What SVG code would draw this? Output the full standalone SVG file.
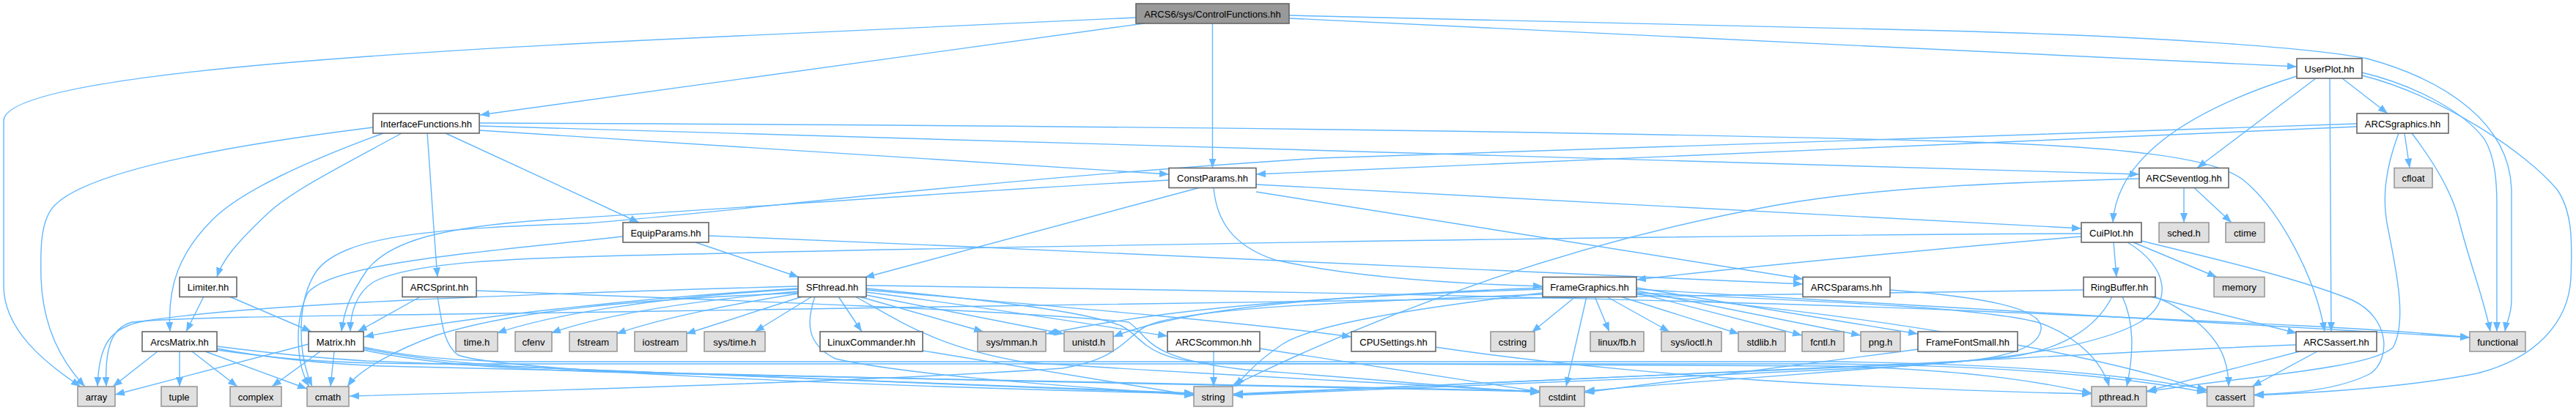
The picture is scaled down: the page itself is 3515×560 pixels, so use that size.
<svg xmlns="http://www.w3.org/2000/svg" width="3515" height="560" viewBox="0 0 3515 560">
<style>
.e path{fill:none;stroke:#63b8ff;stroke-width:1.4;marker-end:url(#ah)}
.n rect{fill:#ffffff;stroke:#666666;stroke-width:1.6}
.x rect{fill:#e0e0e0;stroke:#999999;stroke-width:1.6}
.r rect{fill:#999999;stroke:#666666;stroke-width:1.6}
text{font-family:"Liberation Sans",Arial,Helvetica,sans-serif;font-size:13px;text-anchor:middle;fill:#000000}
</style>
<defs>
<marker id="ah" markerUnits="userSpaceOnUse" markerWidth="14" markerHeight="11" refX="13" refY="5" orient="auto">
<path d="M0,0 L13,5 L0,10 z" fill="#63b8ff"/>
</marker>
</defs>
<rect width="3515" height="560" fill="#ffffff"/>
<g id="edges" class="e">
<path d="M1550,24 L900,54 C400,78 5,110 5,165 L5,390 C5,450 60,495 110,528"/>
<path d="M1561,32 L655,157"/>
<path d="M1654.5,32 L1654.5,229.5"/>
<path d="M1759,25 L3134,91"/>
<path d="M1759,21 L2655,42 C2950,50 3150,65 3230,80 C3340,110 3425,170 3427,260 L3427,410 C3427,430 3420,440 3418,453"/>
<path d="M509,174 C300,200 120,235 75,280 C55,300 55,340 56,380 C58,440 80,490 116,528"/>
<path d="M523,182 C420,220 330,260 290,300 C245,345 228,390 232,453"/>
<path d="M548,182 C460,230 400,260 367,290 C335,320 305,350 296,378.5"/>
<path d="M583,182 C588,250 592,320 597,378.5"/>
<path d="M608,182 L872,304"/>
<path d="M654,178 L1595,238"/>
<path d="M654,172 L2919,238"/>
<path d="M654,168 C1200,170 2000,175 2660,193 C2900,200 3020,215 3060,245 C3110,285 3160,380 3172,453"/>
<path d="M3134,104 C3020,140 2890,200 2883,304"/>
<path d="M3160,107 L2998,229.5"/>
<path d="M3179,107 L3181,453"/>
<path d="M3196,107 L3258,155"/>
<path d="M3223,99 C3290,115 3360,150 3390,190 C3405,215 3407,250 3407,280 L3407,453"/>
<path d="M3223,103 C3330,130 3450,210 3490,260 C3510,290 3510,330 3508,380 C3505,440 3460,490 3380,510 C3280,530 3150,537 3076,540"/>
<path d="M3216,173 L1714,238"/>
<path d="M3216,169 L1800,216 C1300,248 1000,290 800,305 C600,312 470,320 432,370 C405,410 405,480 426,528"/>
<path d="M3273,182 C3255,230 3250,270 3258,310 C3270,370 3285,440 3265,475 C3230,505 3050,515 2929,535"/>
<path d="M3281,182 L3288,229.5"/>
<path d="M3291,182 C3320,220 3345,260 3355,300 C3370,360 3390,410 3398,453"/>
<path d="M1595,246 C1300,262 1000,285 750,300 C600,310 530,330 500,370 C480,400 470,420 466,453"/>
<path d="M1636,256.5 L1180,379"/>
<path d="M1656,256.5 C1660,300 1680,335 1740,355 C1850,380 2000,388 2105,391"/>
<path d="M1714,262 L2460,381"/>
<path d="M1714,252 L2840,312"/>
<path d="M2980,256.5 L2980,304"/>
<path d="M2994,256.5 L3045,304"/>
<path d="M2919,244 C2700,250 2550,258 2425,280 C2150,330 1900,420 1680,528"/>
<path d="M850,323 C650,345 450,360 420,400 C400,440 405,500 422,528"/>
<path d="M949,331 L1090,378.5"/>
<path d="M967,322 C1500,345 2100,368 2460,388"/>
<path d="M2840,319 C2200,322 1300,338 900,348 C700,352 560,358 510,385 C485,400 478,430 478,453"/>
<path d="M2840,323 C2700,335 2400,362 2233,382"/>
<path d="M2884,331 L2888,378.5"/>
<path d="M2911,331 L3025,378.5"/>
<path d="M2922,329 C3050,360 3150,385 3210,410 C3262,435 3262,490 3235,510 C3190,533 3130,537 3076,539"/>
<path d="M2903,331 C2960,365 2965,415 2920,440 C2860,475 2720,492 2600,500 C2300,515 1900,532 1683,540"/>
<path d="M2896,405 C2912,440 2912,480 2902,528"/>
<path d="M2940,405 C2990,425 3025,460 3035,490 C3040,505 3041,515 3041,528"/>
<path d="M2934,405 L3134,455"/>
<path d="M2843,396 C2400,402 1600,414 900,425 C500,431 250,432 180,440 C150,448 143,480 145,528"/>
<path d="M2882,405 C2860,450 2810,478 2740,488 C2550,505 2300,522 2163,534"/>
<path d="M3138,480 L2930,534"/>
<path d="M3162,480 L3073,528"/>
<path d="M3133,471 C2900,480 2750,490 2600,497 C2300,510 1900,530 1683,539"/>
<path d="M1089,395 C900,405 750,430 678,455"/>
<path d="M1089,398 C950,410 820,430 752,455"/>
<path d="M1089,401 C1000,415 900,435 841,456"/>
<path d="M1095,405 L936,456"/>
<path d="M1108,405 L1030,453"/>
<path d="M1144,405 L1176,453"/>
<path d="M1172,405 L1342,453"/>
<path d="M1182,403 L1452,456"/>
<path d="M1182,399 C1350,420 1500,445 1593,459"/>
<path d="M1182,396 C1400,415 1700,440 1844,460"/>
<path d="M1112,405 C1100,440 1100,470 1140,490 C1250,515 1500,530 1629,540"/>
<path d="M1167,405 C1230,440 1280,475 1400,495 C1700,515 1950,525 2101,536"/>
<path d="M1182,394 C1350,410 1480,425 1530,445 C1560,460 1560,490 1650,496 L2500,500 C2700,505 2800,525 2854,537"/>
<path d="M1182,390 C1800,398 2400,412 2700,425 C3000,438 3250,448 3370,461"/>
<path d="M1089,394 C900,405 650,430 497,460"/>
<path d="M1089,400 C850,410 700,425 595,458 C540,478 490,505 474,528"/>
<path d="M1089,391 C700,402 350,415 200,438 C150,446 135,470 133,528"/>
<path d="M2150,405 L2090,454"/>
<path d="M2165,405 L2137,528"/>
<path d="M2176,405 L2196,453"/>
<path d="M2192,405 L2278,453"/>
<path d="M2211,405 L2373,456"/>
<path d="M2233,400 L2459,458"/>
<path d="M2233,397 L2539,458"/>
<path d="M2233,393 L2617,456"/>
<path d="M2233,395 L3370,461"/>
<path d="M2233,400 C2500,412 2700,420 2780,440 C2840,460 2870,500 2878,528"/>
<path d="M2233,402 C2550,430 2850,480 3011,534"/>
<path d="M2105,400 C1900,425 1790,445 1750,470 C1720,490 1700,510 1686,528"/>
<path d="M2105,402 C1850,412 1620,420 1565,445 C1535,460 1530,490 1450,503 C1200,520 800,532 477,541"/>
<path d="M2105,395 C1800,405 1600,420 1428,456"/>
<path d="M2105,393 C1800,405 1620,420 1519,460"/>
<path d="M421,470 L157,539"/>
<path d="M437,480 L371,528"/>
<path d="M456,480 L451,528"/>
<path d="M496,476 C560,488 620,498 800,505 C1100,515 1400,530 1629,537"/>
<path d="M496,478 C560,492 650,505 900,510 C1400,520 1800,528 2101,534"/>
<path d="M496,474 C550,485 600,492 700,494 L2500,494 C2750,497 2900,512 3011,532"/>
<path d="M215,480 L154,528"/>
<path d="M245,480 L245,528"/>
<path d="M262,480 L324,528"/>
<path d="M280,480 L419,531"/>
<path d="M296,473 C350,480 420,488 500,493 C800,505 1200,520 1629,538"/>
<path d="M296,476 C350,486 420,496 520,500 C1000,512 1600,526 2101,535"/>
<path d="M296,478 C380,490 450,497 600,497 L2500,497 C2750,500 2900,515 3011,536"/>
<path d="M278,405 L254,453"/>
<path d="M313,405 L425,453"/>
<path d="M574,405 L488,453"/>
<path d="M597,405 C603,440 605,470 625,485 C680,505 1100,525 1629,538"/>
<path d="M650,397 C1000,410 1400,425 1540,440 C1570,460 1560,490 1700,505 C1900,520 2000,530 2101,536"/>
<path d="M1656,480 L1656,528"/>
<path d="M1719,476 L2101,535"/>
<path d="M1958,474 C2100,495 2300,515 2500,525 C2650,532 2750,536 2854,538"/>
<path d="M1259,479 L1629,540"/>
<path d="M2617,477 C2450,500 2280,522 2162,536"/>
<path d="M2579,396 C2700,405 2790,420 2785,450 C2780,485 2700,495 2600,498 C2300,510 1900,530 1683,538"/>
</g>
<g id="ControlFunctions" class="r"><rect x="1550" y="5" width="209" height="27"/><text x="1654.5" y="23.5">ARCS6/sys/ControlFunctions.hh</text></g>
<g id="UserPlot" class="n"><rect x="3134" y="80" width="89" height="27"/><text x="3178.5" y="98.5">UserPlot.hh</text></g>
<g id="InterfaceFunctions" class="n"><rect x="509" y="155" width="145" height="27"/><text x="581.5" y="173.5">InterfaceFunctions.hh</text></g>
<g id="ARCSgraphics" class="n"><rect x="3216" y="155" width="125" height="27"/><text x="3278.5" y="173.5">ARCSgraphics.hh</text></g>
<g id="ConstParams" class="n"><rect x="1595" y="229.5" width="119" height="27"/><text x="1654.5" y="248">ConstParams.hh</text></g>
<g id="ARCSeventlog" class="n"><rect x="2919" y="229.5" width="122" height="27"/><text x="2980" y="248">ARCSeventlog.hh</text></g>
<g id="cfloat" class="x"><rect x="3267" y="229.5" width="52" height="27"/><text x="3293" y="248">cfloat</text></g>
<g id="EquipParams" class="n"><rect x="850" y="304" width="117" height="27"/><text x="908.5" y="322.5">EquipParams.hh</text></g>
<g id="CuiPlot" class="n"><rect x="2840" y="304" width="82" height="27"/><text x="2881" y="322.5">CuiPlot.hh</text></g>
<g id="sched_h" class="x"><rect x="2946" y="304" width="68" height="27"/><text x="2980" y="322.5">sched.h</text></g>
<g id="ctime" class="x"><rect x="3037" y="304" width="53" height="27"/><text x="3063.5" y="322.5">ctime</text></g>
<g id="Limiter" class="n"><rect x="245" y="378.5" width="78" height="27"/><text x="284" y="397">Limiter.hh</text></g>
<g id="ARCSprint" class="n"><rect x="549" y="378.5" width="101" height="27"/><text x="599.5" y="397">ARCSprint.hh</text></g>
<g id="SFthread" class="n"><rect x="1089" y="378.5" width="93" height="27"/><text x="1135.5" y="397">SFthread.hh</text></g>
<g id="FrameGraphics" class="n"><rect x="2105" y="378.5" width="128" height="27"/><text x="2169" y="397">FrameGraphics.hh</text></g>
<g id="ARCSparams" class="n"><rect x="2460" y="378.5" width="119" height="27"/><text x="2519.5" y="397">ARCSparams.hh</text></g>
<g id="RingBuffer" class="n"><rect x="2843" y="378.5" width="98" height="27"/><text x="2892" y="397">RingBuffer.hh</text></g>
<g id="memory" class="x"><rect x="3021" y="378.5" width="69" height="27"/><text x="3055.5" y="397">memory</text></g>
<g id="ArcsMatrix" class="n"><rect x="194" y="453" width="102" height="27"/><text x="245" y="471.5">ArcsMatrix.hh</text></g>
<g id="Matrix" class="n"><rect x="421" y="453" width="75" height="27"/><text x="458.5" y="471.5">Matrix.hh</text></g>
<g id="time_h" class="x"><rect x="622" y="453" width="57" height="27"/><text x="650.5" y="471.5">time.h</text></g>
<g id="cfenv" class="x"><rect x="703" y="453" width="50" height="27"/><text x="728" y="471.5">cfenv</text></g>
<g id="fstream" class="x"><rect x="777" y="453" width="65" height="27"/><text x="809.5" y="471.5">fstream</text></g>
<g id="iostream" class="x"><rect x="866" y="453" width="71" height="27"/><text x="901.5" y="471.5">iostream</text></g>
<g id="sys_time_h" class="x"><rect x="961" y="453" width="83" height="27"/><text x="1002.5" y="471.5">sys/time.h</text></g>
<g id="LinuxCommander" class="n"><rect x="1119" y="453" width="140" height="27"/><text x="1189" y="471.5">LinuxCommander.hh</text></g>
<g id="sys_mman_h" class="x"><rect x="1334" y="453" width="93" height="27"/><text x="1380.5" y="471.5">sys/mman.h</text></g>
<g id="unistd_h" class="x"><rect x="1452" y="453" width="67" height="27"/><text x="1485.5" y="471.5">unistd.h</text></g>
<g id="ARCScommon" class="n"><rect x="1593" y="453" width="126" height="27"/><text x="1656" y="471.5">ARCScommon.hh</text></g>
<g id="CPUSettings" class="n"><rect x="1844" y="453" width="115" height="27"/><text x="1901.5" y="471.5">CPUSettings.hh</text></g>
<g id="cstring" class="x"><rect x="2034" y="453" width="60" height="27"/><text x="2064" y="471.5">cstring</text></g>
<g id="linux_fb_h" class="x"><rect x="2170" y="453" width="73" height="27"/><text x="2206.5" y="471.5">linux/fb.h</text></g>
<g id="sys_ioctl_h" class="x"><rect x="2267" y="453" width="82" height="27"/><text x="2308" y="471.5">sys/ioctl.h</text></g>
<g id="stdlib_h" class="x"><rect x="2372" y="453" width="64" height="27"/><text x="2404" y="471.5">stdlib.h</text></g>
<g id="fcntl_h" class="x"><rect x="2459" y="453" width="57" height="27"/><text x="2487.5" y="471.5">fcntl.h</text></g>
<g id="png_h" class="x"><rect x="2539" y="453" width="54" height="27"/><text x="2566" y="471.5">png.h</text></g>
<g id="FrameFontSmall" class="n"><rect x="2617" y="453" width="136" height="27"/><text x="2685" y="471.5">FrameFontSmall.hh</text></g>
<g id="ARCSassert" class="n"><rect x="3133" y="453" width="110" height="27"/><text x="3188" y="471.5">ARCSassert.hh</text></g>
<g id="functional" class="x"><rect x="3370" y="453" width="76" height="27"/><text x="3408" y="471.5">functional</text></g>
<g id="array" class="x"><rect x="106" y="528" width="51" height="27"/><text x="131.5" y="546.5">array</text></g>
<g id="tuple" class="x"><rect x="220" y="528" width="49" height="27"/><text x="244.5" y="546.5">tuple</text></g>
<g id="complex" class="x"><rect x="314" y="528" width="70" height="27"/><text x="349" y="546.5">complex</text></g>
<g id="cmath" class="x"><rect x="419" y="528" width="57" height="27"/><text x="447.5" y="546.5">cmath</text></g>
<g id="string" class="x"><rect x="1629" y="528" width="53" height="27"/><text x="1655.5" y="546.5">string</text></g>
<g id="cstdint" class="x"><rect x="2101" y="528" width="61" height="27"/><text x="2131.5" y="546.5">cstdint</text></g>
<g id="pthread_h" class="x"><rect x="2854" y="528" width="75" height="27"/><text x="2891.5" y="546.5">pthread.h</text></g>
<g id="cassert" class="x"><rect x="3011.5" y="528" width="64" height="27"/><text x="3043.5" y="546.5">cassert</text></g>
</svg>
